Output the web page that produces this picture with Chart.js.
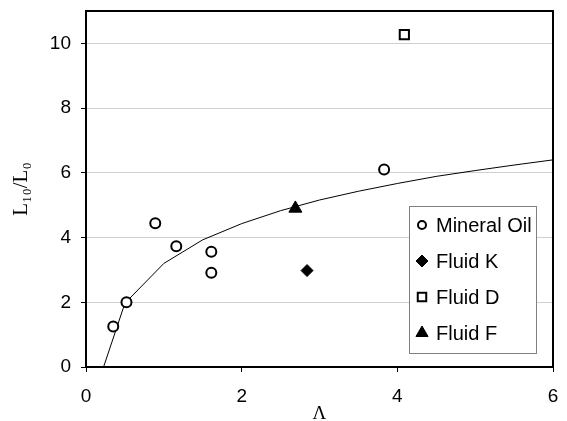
<!DOCTYPE html>
<html>
<head>
<meta charset="utf-8">
<script src="https://cdn.jsdelivr.net/npm/chart.js@4/dist/chart.umd.min.js"></script>
<style>
  html, body { margin: 0; padding: 0; background: #fff; }
  #wrap { width: 567px; height: 421px; }
</style>
</head>
<body>
<div id="wrap"><canvas id="grafico"></canvas></div>
<script>
// Datos medidos
const mineralOilX = [0.35, 0.52, 0.89, 1.16, 1.61, 1.61, 3.83];
const mineralOilY = [1.25, 2.0, 4.44, 3.73, 3.56, 2.91, 6.1];
const fluidKX = [2.84];
const fluidKY = [2.98];
const fluidDX = [4.09];
const fluidDY = [10.27];
const fluidFX = [2.69];
const fluidFY = [4.9];

// Curva de ajuste
const curvaX = [0.1, 0.5, 1, 1.5, 2, 2.5, 3, 3.5, 4, 4.5, 5, 5.5, 6];
const curvaY = [-0.9, 1.97, 3.2, 3.93, 4.43, 4.83, 5.16, 5.43, 5.67, 5.89, 6.07, 6.24, 6.4];

// Ejes
const xTicks = [0, 2, 4, 6];
const yTicks = [0, 2, 4, 6, 8, 10];
const xMax = 6;
const yMax = 11;

const puntos = (xs, ys) => xs.map((x, i) => ({ x: x, y: ys[i] }));

const fuente = "'Liberation Sans', Arial, sans-serif";
const fuenteSerif = "'Liberation Serif', 'DejaVu Serif', 'Times New Roman', serif";

// Marco del area de grafico
const marco = {
  id: 'marco',
  beforeDatasetsDraw(chart) {
    const { ctx, chartArea: a } = chart;
    ctx.save();
    ctx.strokeStyle = '#000';
    ctx.lineWidth = 2;
    ctx.strokeRect(a.left, a.top, a.right - a.left, a.bottom - a.top);
    ctx.restore();
  }
};

// Leyenda dentro del grafico
const leyenda = {
  id: 'leyenda',
  afterDraw(chart) {
    const { ctx } = chart;
    const caja = { x: 409, y: 206, w: 127, h: 147 };
    ctx.save();
    ctx.fillStyle = '#fff';
    ctx.fillRect(caja.x, caja.y, caja.w, caja.h);
    ctx.strokeStyle = '#808080';
    ctx.lineWidth = 1;
    ctx.strokeRect(caja.x + 0.5, caja.y + 0.5, caja.w, caja.h);

    const series = chart.data.datasets.filter(d => !d.ocultarLeyenda);
    series.forEach((d, i) => {
      const y = caja.y + 19 + i * 36;
      ctx.fillStyle = d.backgroundColor;
      ctx.strokeStyle = d.borderColor;
      ctx.lineWidth = d.borderWidth;
      Chart.helpers.drawPoint(ctx, {
        pointStyle: d.pointStyle,
        radius: d.radiusLeyenda,
        borderWidth: d.borderWidth,
        rotation: 0
      }, caja.x + 13, y);
      ctx.fillStyle = '#000';
      ctx.font = '20px ' + fuente;
      ctx.textBaseline = 'middle';
      ctx.textAlign = 'left';
      ctx.fillText(d.label, caja.x + 27, y + 1);
    });
    ctx.restore();
  }
};

const grafico = new Chart(document.getElementById('grafico'), {
  type: 'scatter',
  data: {
    datasets: [
      {
        label: 'Mineral Oil',
        data: puntos(mineralOilX, mineralOilY),
        pointStyle: 'circle',
        pointRadius: 5,
        radiusLeyenda: 4,
        backgroundColor: '#fff',
        borderColor: '#000',
        borderWidth: 2,
        order: 0
      },
      {
        label: 'Fluid K',
        data: puntos(fluidKX, fluidKY),
        pointStyle: 'rectRot',
        pointRadius: 6,
        radiusLeyenda: 6,
        backgroundColor: '#000',
        borderColor: '#000',
        borderWidth: 1,
        order: 0
      },
      {
        label: 'Fluid D',
        data: puntos(fluidDX, fluidDY),
        pointStyle: 'rect',
        pointRadius: 6.5,
        radiusLeyenda: 6,
        backgroundColor: '#fff',
        borderColor: '#000',
        borderWidth: 2,
        order: 0
      },
      {
        label: 'Fluid F',
        data: puntos(fluidFX, fluidFY),
        pointStyle: 'triangle',
        pointRadius: 7.5,
        radiusLeyenda: 7,
        backgroundColor: '#000',
        borderColor: '#000',
        borderWidth: 1,
        order: 0
      },
      {
        label: 'Ajuste',
        ocultarLeyenda: true,
        data: puntos(curvaX, curvaY),
        showLine: true,
        pointRadius: 0,
        borderColor: '#000',
        borderWidth: 1,
        backgroundColor: '#000',
        order: 1
      }
    ]
  },
  options: {
    responsive: true,
    maintainAspectRatio: false,
    animation: false,
    layout: { padding: { top: 11, right: 14, left: 0, bottom: 0 } },
    plugins: {
      legend: { display: false },
      tooltip: { enabled: false }
    },
    scales: {
      x: {
        type: 'linear',
        min: 0,
        max: xMax,
        afterFit: s => { s.height = 54; s.paddingLeft = 0; s.paddingRight = 0; },
        afterBuildTicks: s => { s.ticks = xTicks.map(v => ({ value: v })); },
        border: { color: '#000', width: 2 },
        grid: { drawOnChartArea: false, drawTicks: true, tickLength: 5, tickColor: '#000', tickWidth: 1 },
        ticks: { color: '#000', font: { family: fuente, size: 19 }, padding: 13, maxRotation: 0 },
        title: {
          display: true,
          text: 'Λ',
          color: '#000',
          font: { family: fuenteSerif, size: 19 },
          padding: { top: 0, bottom: -4 }
        }
      },
      y: {
        type: 'linear',
        min: 0,
        max: yMax,
        afterFit: s => { s.width = 86; s.paddingTop = 0; s.paddingBottom = 0; },
        afterBuildTicks: s => { s.ticks = yTicks.map(v => ({ value: v })); },
        border: { color: '#000', width: 2 },
        grid: { color: '#cfcfcf', lineWidth: 1, drawTicks: true, tickLength: 5, tickColor: '#000', tickWidth: 1 },
        ticks: { color: '#000', font: { family: fuente, size: 19 }, padding: 10 },
        title: {
          display: true,
          text: 'L₁₀/L₀',
          color: '#000',
          font: { family: fuenteSerif, size: 21 },
          padding: { top: 9, bottom: 0 }
        }
      }
    }
  },
  plugins: [marco, leyenda]
});
</script>
</body>
</html>
